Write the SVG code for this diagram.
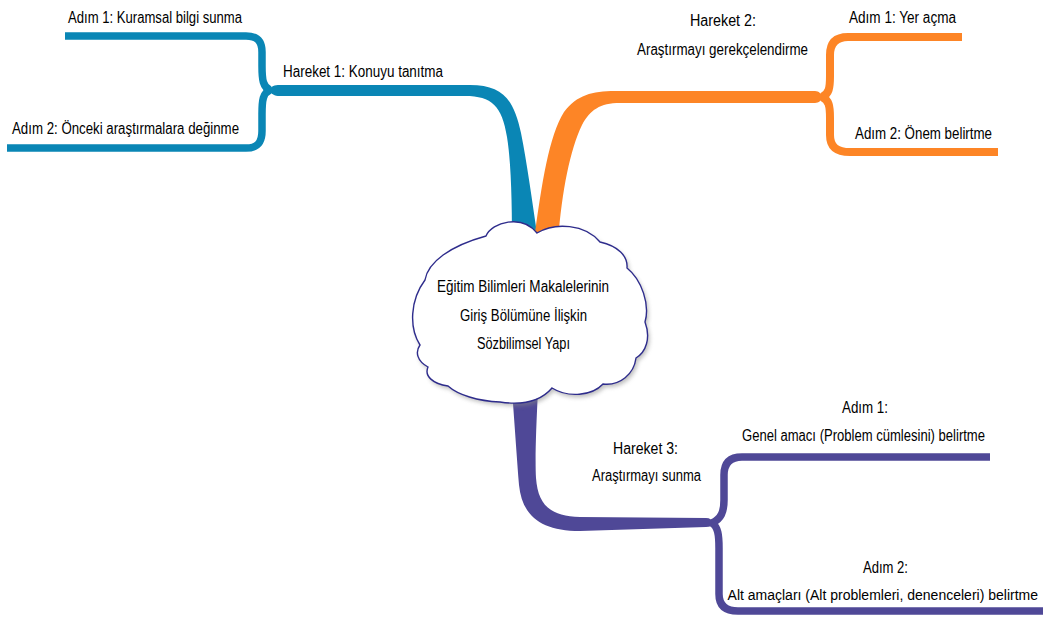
<svg xmlns="http://www.w3.org/2000/svg" width="1043" height="623" viewBox="0 0 1043 623">
<defs>
<style>
.t{font-family:"Liberation Sans","DejaVu Sans",Arial,sans-serif;font-size:16px;fill:#000;}
.blue{fill:#0a86b5;}
.orange{fill:#fd8526;}
.purple{fill:#4f4897;}
.bl{fill:none;stroke:#0a86b5;stroke-width:7.5;}
.or{fill:none;stroke:#fd8526;stroke-width:8;}
.pu{fill:none;stroke:#4f4897;stroke-width:7.5;}
.cloud{fill:#fff;stroke:#2e2c8c;stroke-width:1.4;}
</style>
<filter id="sh" x="-10%" y="-10%" width="130%" height="130%">
<feGaussianBlur stdDeviation="2"/>
</filter>
</defs>
<rect width="1043" height="623" fill="#fff"/>
<g id="connectors">
<path class="blue" d="M268,90 C272,86 274,85 280,85 L470,85 C503,85 514,100 521,133 C527,163 532,200 538,240 L512,240 C512,200 511,162 507,137 C502,106 492,96 465,96 L280,96 C274,96 272,94 268,90 Z"/>
<path class="bl" d="M270,90 C263,87 262,80 262,66 L262,52 C262,41 257,36 246,36 L65,36"/>
<path class="bl" d="M270,90 C263,93 262,100 262,114 L262,131 C262,143 257,148 246,148 L7,148"/>
<path class="orange" d="M534,240 C542,182 549,136 564,112 C577,95 592,91 615,91 L815,91 C819,91 821,94 824,97 C821,100 819,103 815,103 L620,103 C600,103 590,110 582,125 C570,150 562,190 558,240 Z"/>
<path class="or" d="M822,97 C829,94 830,88 830,76 L830,55 C830,43 836,37 848,37 L962,37"/>
<path class="or" d="M822,97 C829,100 830,106 830,118 L830,135 C830,147 837,152 850,152 L998,152"/>
<path class="purple" d="M512,390 L538,390 C536,430 535,460 536,478 C538,505 550,516 580,517 L706,518 C710,518 712,520 715,523 C712,526 710,527 706,527 L580,531 C540,531 522,515 519,485 C517,460 515,430 512,390 Z"/>
<path class="pu" d="M712,523 C721,519 724,512 724,500 L724,475 C724,463 730,457 742,457 L990,457"/>
<path class="pu" d="M712,523 C718,527 719,535 719,548 L719,594 C719,605 725,611 738,611 L1043,611"/>
</g>
<g id="center">
<path d="M537,233 C555,222 585,224 600,242 C618,246 628,256 627,268 C642,280 650,305 645,322 C651,338 646,352 636,358 C634,374 620,386 603,384 C592,396 568,398 552,388 C540,402 520,405 500,402 C478,401 458,395 448,386 C433,384 424,376 428,367 C417,361 415,352 420,345 C409,328 410,300 425,280 C428,262 450,246 486,236 C492,222 522,214 537,233 Z" fill="#888" opacity="0.55" filter="url(#sh)" transform="translate(2,3)"/>
<path class="cloud" d="M537,233 C555,222 585,224 600,242 C618,246 628,256 627,268 C642,280 650,305 645,322 C651,338 646,352 636,358 C634,374 620,386 603,384 C592,396 568,398 552,388 C540,402 520,405 500,402 C478,401 458,395 448,386 C433,384 424,376 428,367 C417,361 415,352 420,345 C409,328 410,300 425,280 C428,262 450,246 486,236 C492,222 522,214 537,233 Z"/>
<text class="t" x="437" y="292" textLength="172" lengthAdjust="spacingAndGlyphs">Eğitim Bilimleri Makalelerinin</text>
<text class="t" x="460" y="321" textLength="127" lengthAdjust="spacingAndGlyphs">Giriş Bölümüne İlişkin</text>
<text class="t" x="477" y="349" textLength="93" lengthAdjust="spacingAndGlyphs">Sözbilimsel Yapı</text>
</g>
<g id="hareket1">
<text class="t" x="283" y="77" textLength="160" lengthAdjust="spacingAndGlyphs">Hareket 1: Konuyu tanıtma</text>
</g>
<g id="h1-adim1">
<text class="t" x="68" y="23" textLength="174" lengthAdjust="spacingAndGlyphs">Adım 1: Kuramsal bilgi sunma</text>
</g>
<g id="h1-adim2">
<text class="t" x="12" y="134" textLength="227" lengthAdjust="spacingAndGlyphs">Adım 2: Önceki araştırmalara değinme</text>
</g>
<g id="hareket2">
<text class="t" x="690" y="26" textLength="66" lengthAdjust="spacingAndGlyphs">Hareket 2:</text>
<text class="t" x="637" y="55" textLength="171" lengthAdjust="spacingAndGlyphs">Araştırmayı gerekçelendirme</text>
</g>
<g id="h2-adim1">
<text class="t" x="849" y="23" textLength="107" lengthAdjust="spacingAndGlyphs">Adım 1: Yer açma</text>
</g>
<g id="h2-adim2">
<text class="t" x="855" y="139" textLength="137" lengthAdjust="spacingAndGlyphs">Adım 2: Önem belirtme</text>
</g>
<g id="hareket3">
<text class="t" x="613" y="454" textLength="65" lengthAdjust="spacingAndGlyphs">Hareket 3:</text>
<text class="t" x="592" y="481" textLength="109" lengthAdjust="spacingAndGlyphs">Araştırmayı sunma</text>
</g>
<g id="h3-adim1">
<text class="t" x="842" y="413" textLength="46" lengthAdjust="spacingAndGlyphs">Adım 1:</text>
<text class="t" x="742" y="441" textLength="243" lengthAdjust="spacingAndGlyphs">Genel amacı (Problem cümlesini) belirtme</text>
</g>
<g id="h3-adim2">
<text class="t" x="863" y="573" textLength="45" lengthAdjust="spacingAndGlyphs">Adım 2:</text>
<text class="t" x="1038" y="600" style="font-size:14px" text-anchor="end">Alt amaçları (Alt problemleri, denenceleri) belirtme</text>
</g>
</svg>
